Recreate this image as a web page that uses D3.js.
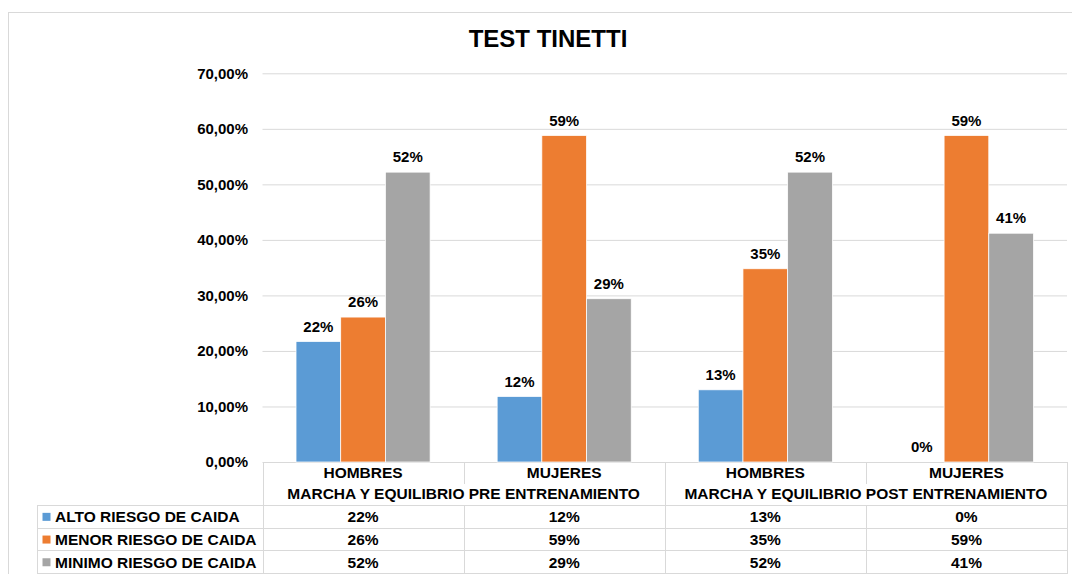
<!DOCTYPE html>
<html>
<head>
<meta charset="utf-8">
<script src="https://cdn.jsdelivr.net/npm/d3@7"></script>
<style>
  body { margin: 0; background: #fff; }
  svg { display: block; font-family: "Liberation Sans", Arial, sans-serif; }
</style>
</head>
<body>
<div id="chart"></div>
<script>
// data
const categories = ["HOMBRES", "MUJERES", "HOMBRES", "MUJERES"];
const groupLabels = ["MARCHA Y EQUILIBRIO PRE ENTRENAMIENTO", "MARCHA Y EQUILIBRIO POST ENTRENAMIENTO"];
const seriesNames = ["ALTO RIESGO DE CAIDA", "MENOR RIESGO DE CAIDA", "MINIMO RIESGO DE CAIDA"];
const alto = [21.7, 11.8, 13.0, 0];
const menor = [26.1, 58.8, 34.8, 58.8];
const minimo = [52.2, 29.4, 52.2, 41.2];
const yTicks = [0, 10, 20, 30, 40, 50, 60, 70];
const colors = ["#5b9bd5", "#ed7d31", "#a5a5a5"];

const width = 1072, height = 574;
const plot = { left: 262.5, right: 1067, top: 73.3, bottom: 462 };
const rowH = 22.7;
const tableTop = 505, legendLeft = 37;
const gridColor = "#d9d9d9";
const tableFont = 15.5;

const seriesValues = [alto, menor, minimo];

const svg = d3.select("#chart")
  .append("svg")
  .attr("width", width)
  .attr("height", height);

// chart frame
svg.append("rect")
  .attr("x", 8.5).attr("y", 12.5)
  .attr("width", 1200).attr("height", 700)
  .attr("fill", "none")
  .attr("stroke", gridColor);

const x0 = d3.scaleBand()
  .domain(d3.range(categories.length))
  .range([plot.left, plot.right])
  .padding(0);

const x1 = d3.scaleBand()
  .domain(d3.range(seriesNames.length))
  .range([0, x0.bandwidth()])
  .paddingInner(0)
  .paddingOuter(0.75);

const y = d3.scaleLinear()
  .domain([0, 70])
  .range([plot.bottom, plot.top]);

const fmtTick = d => d3.format(".2f")(d).replace(".", ",") + "%";
const fmtPct = d => d3.format(".0f")(d) + "%";

// gridlines
svg.append("g")
  .selectAll("line")
  .data(yTicks)
  .join("line")
  .attr("x1", plot.left)
  .attr("x2", plot.right)
  .attr("y1", d => y(d) + 0.5)
  .attr("y2", d => y(d) + 0.5)
  .attr("stroke", gridColor)
  .attr("stroke-width", 1);

// y axis labels
svg.append("g")
  .selectAll("text")
  .data(yTicks)
  .join("text")
  .attr("x", 248)
  .attr("y", d => y(d))
  .attr("dy", "0.35em")
  .attr("text-anchor", "end")
  .attr("font-size", 15)
  .attr("font-weight", "bold")
  .text(fmtTick);

// title
svg.append("text")
  .attr("x", 548)
  .attr("y", 47)
  .attr("text-anchor", "middle")
  .attr("font-size", 24)
  .attr("font-weight", "bold")
  .text("TEST TINETTI");

// bars
const groups = svg.append("g")
  .selectAll("g")
  .data(categories)
  .join("g")
  .attr("transform", (d, i) => `translate(${x0(i)},0)`);

groups.selectAll("rect")
  .data((d, i) => seriesValues.map((vals, s) => ({ s: s, v: vals[i] })))
  .join("rect")
  .attr("x", d => x1(d.s))
  .attr("y", d => y(d.v))
  .attr("width", x1.bandwidth())
  .attr("height", d => y(0) - y(d.v))
  .attr("fill", d => colors[d.s])
  .attr("stroke", "#fff")
  .attr("stroke-width", 0.75);

groups.selectAll("text")
  .data((d, i) => seriesValues.map((vals, s) => ({ s: s, v: vals[i] })))
  .join("text")
  .attr("x", d => x1(d.s) + x1.bandwidth() / 2)
  .attr("y", d => y(d.v) - 15)
  .attr("dy", "0.35em")
  .attr("text-anchor", "middle")
  .attr("font-size", 15)
  .attr("font-weight", "bold")
  .text(d => fmtPct(d.v));

// data table
const table = svg.append("g")
  .attr("stroke", gridColor)
  .attr("stroke-width", 1);

// horizontal lines
[tableTop, tableTop + rowH, tableTop + 2 * rowH, tableTop + 3 * rowH].forEach(yy => {
  table.append("line")
    .attr("x1", legendLeft).attr("x2", plot.right)
    .attr("y1", Math.round(yy) + 0.5).attr("y2", Math.round(yy) + 0.5);
});

// legend column left edge
table.append("line")
  .attr("x1", legendLeft + 0.5).attr("x2", legendLeft + 0.5)
  .attr("y1", tableTop).attr("y2", tableTop + 3 * rowH + 1);

// column separators
d3.range(categories.length + 1).forEach(i => {
  const xx = Math.round(plot.left + i * x0.bandwidth()) + 0.5;
  const fullHeader = (i % 2 === 0);
  table.append("line")
    .attr("x1", xx).attr("x2", xx)
    .attr("y1", fullHeader ? plot.bottom : tableTop)
    .attr("y2", tableTop + 3 * rowH + 1);
  if (!fullHeader) {
    table.append("line")
      .attr("x1", xx).attr("x2", xx)
      .attr("y1", plot.bottom).attr("y2", 484);
  }
});

// header labels
svg.append("g")
  .selectAll("text")
  .data(categories)
  .join("text")
  .attr("x", (d, i) => x0(i) + x0.bandwidth() / 2)
  .attr("y", 472.5)
  .attr("dy", "0.35em")
  .attr("text-anchor", "middle")
  .attr("font-size", tableFont)
  .attr("font-weight", "bold")
  .text(d => d);

svg.append("g")
  .selectAll("text")
  .data(groupLabels)
  .join("text")
  .attr("x", (d, i) => x0(i * 2) + x0.bandwidth())
  .attr("y", 494)
  .attr("dy", "0.35em")
  .attr("text-anchor", "middle")
  .attr("font-size", tableFont)
  .attr("font-weight", "bold")
  .text(d => d);

// table rows
seriesNames.forEach((name, s) => {
  const cy = tableTop + s * rowH + rowH / 2 + 0.5;
  svg.append("rect")
    .attr("x", 42.5).attr("y", cy - 4)
    .attr("width", 8).attr("height", 8)
    .attr("fill", colors[s]);
  svg.append("text")
    .attr("x", 55)
    .attr("y", cy)
    .attr("dy", "0.35em")
    .attr("font-size", tableFont)
    .attr("font-weight", "bold")
    .text(name);
  svg.append("g")
    .selectAll("text")
    .data(seriesValues[s])
    .join("text")
    .attr("x", (d, i) => x0(i) + x0.bandwidth() / 2)
    .attr("y", cy)
    .attr("dy", "0.35em")
    .attr("text-anchor", "middle")
    .attr("font-size", tableFont)
    .attr("font-weight", "bold")
    .text(fmtPct);
});
</script>
</body>
</html>
